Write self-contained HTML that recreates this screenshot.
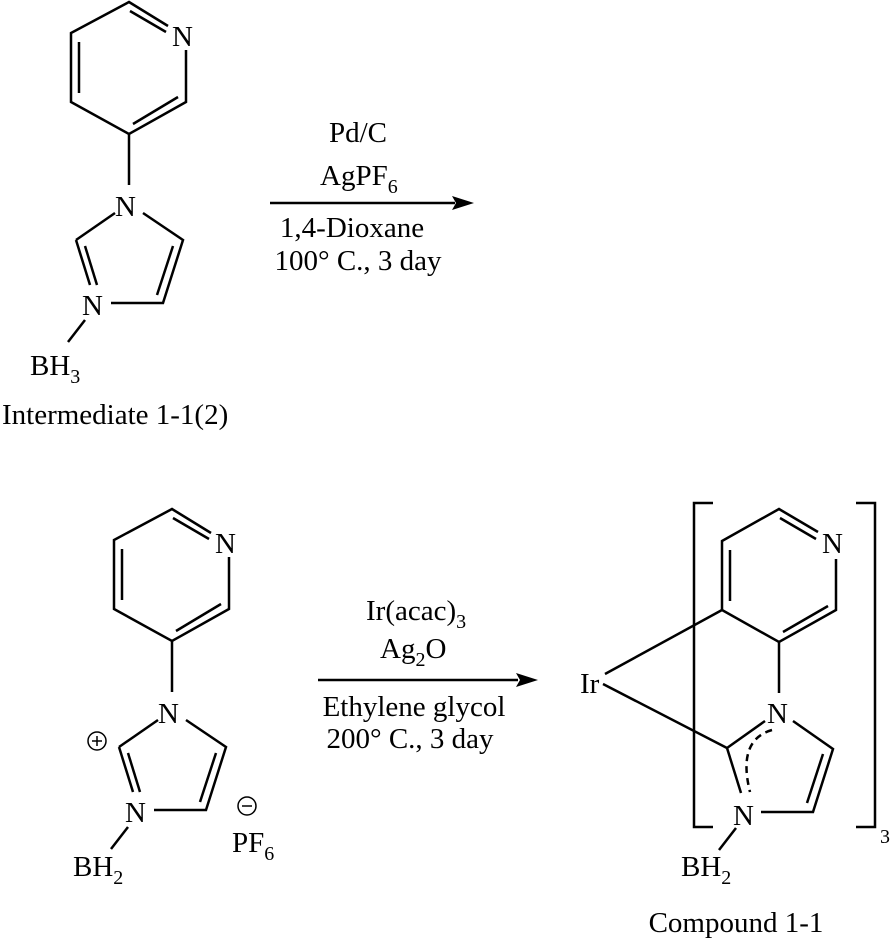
<!DOCTYPE html>
<html><head><meta charset="utf-8"><style>
html,body{margin:0;padding:0;background:#fff;}
svg{display:block;}
text{font-family:"Liberation Serif",serif;font-size:29px;fill:#000;}
.m{text-anchor:middle;}
.s{font-size:20px;}
</style></head><body>
<svg width="894" height="941" viewBox="0 0 894 941" xmlns="http://www.w3.org/2000/svg">
<defs>
<g id="mol" stroke="#000" stroke-width="2.5" fill="none">
<polyline points="168,26 129,2 71,33 71,102 129,134 186,102 186,50"/>
<line x1="130" y1="11" x2="166" y2="32"/>
<line x1="79" y1="42" x2="79" y2="93"/>
<line x1="133" y1="124" x2="178" y2="97"/>
<line x1="129" y1="134" x2="129" y2="185"/>
<polyline points="143,213 183,240 163,303 111,303"/>
<line x1="173" y1="246" x2="157" y2="295"/>
<line x1="115" y1="213" x2="76" y2="240"/>
<line x1="76" y1="240" x2="90" y2="285"/>
<line x1="85" y1="246" x2="97" y2="285"/>
<line x1="85" y1="320" x2="68" y2="342"/>
</g>
</defs>
<use href="#mol"/>
<g><text x="172" y="46">N</text><text x="115" y="216">N</text><text x="82" y="315">N</text>
<text x="30" y="375">BH<tspan class="s" dy="8">3</tspan></text>
<text x="2" y="424">Intermediate 1-1(2)</text></g>

<!-- arrow 1 -->
<line x1="270" y1="203" x2="455" y2="203" stroke="#000" stroke-width="2.5"/>
<polygon points="474,203 452,196 456,203 452,210" fill="#000"/>
<text class="m" x="358" y="142">Pd/C</text>
<text x="320" y="185">AgPF<tspan class="s" dy="8">6</tspan></text>
<text class="m" x="352" y="237">1,4-Dioxane</text>
<text class="m" x="358" y="270">100° C., 3 day</text>

<!-- molecule 2 -->
<use href="#mol" transform="translate(43,507)"/>
<text x="215" y="553">N</text><text x="158" y="723">N</text><text x="125" y="822">N</text>
<text x="73" y="876">BH<tspan class="s" dy="8">2</tspan></text>
<circle cx="97" cy="741" r="9" fill="none" stroke="#000" stroke-width="1.5"/>
<line x1="92" y1="741" x2="102" y2="741" stroke="#000" stroke-width="1.5"/><line x1="97" y1="736" x2="97" y2="746" stroke="#000" stroke-width="1.5"/>
<circle cx="247" cy="806" r="9" fill="none" stroke="#000" stroke-width="1.5"/>
<line x1="242" y1="806" x2="252" y2="806" stroke="#000" stroke-width="1.5"/>
<text x="232" y="852">PF<tspan class="s" dy="8">6</tspan></text>

<!-- arrow 2 -->
<line x1="318" y1="680" x2="518" y2="680" stroke="#000" stroke-width="2.5"/>
<polygon points="538,680 516,673 520,680 516,687" fill="#000"/>
<text x="366" y="620">Ir(acac)<tspan class="s" dy="8">3</tspan></text>
<text x="380" y="658">Ag<tspan class="s" dy="8">2</tspan><tspan dy="-8">O</tspan></text>
<text class="m" x="414" y="716">Ethylene glycol</text>
<text class="m" x="410" y="748">200° C., 3 day</text>

<!-- compound -->
<g stroke="#000" stroke-width="2.5" fill="none">
<polyline points="818,532 779,509 722,541 722,610 779,642 836,610 836,559"/>
<line x1="780" y1="518" x2="816" y2="539"/>
<line x1="730" y1="550" x2="730" y2="601"/>
<line x1="783" y1="632" x2="828" y2="606"/>
<line x1="779" y1="642" x2="779" y2="693"/>
<polyline points="793,721 833,749 813,812 761,812"/>
<line x1="823" y1="754" x2="807" y2="803"/>
<line x1="765" y1="721" x2="727" y2="748"/>
<line x1="727" y1="748" x2="741" y2="793"/>
<path d="M772,730 Q737,740 750,792" stroke-dasharray="7,5"/>
<line x1="736" y1="828" x2="719" y2="850"/>
<line x1="605" y1="674" x2="722" y2="610"/>
<line x1="603" y1="684" x2="727" y2="748"/>
<polyline points="713,503 694,503 694,827 713,827"/>
<polyline points="856,503 875,503 875,827 856,827"/>
</g>
<text x="822" y="553">N</text><text x="767" y="723">N</text><text x="733" y="825">N</text>
<text x="580" y="693">Ir</text>
<text x="681" y="876">BH<tspan class="s" dy="8">2</tspan></text>
<text x="880" y="843" class="s">3</text>
<text class="m" x="736" y="932">Compound 1-1</text>
</svg>
</body></html>
